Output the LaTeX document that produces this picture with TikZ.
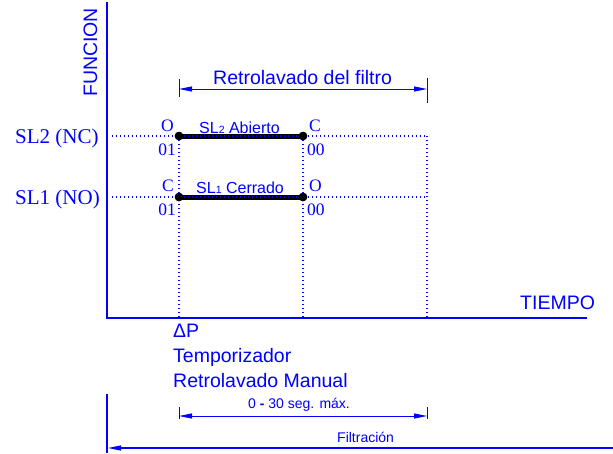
\documentclass[tikz,border=0pt]{standalone}
\usepackage{fontspec}
\setmainfont{Liberation Sans}
\newfontfamily\serifft{Liberation Serif}
\usetikzlibrary{arrows.meta}
\definecolor{dblue}{RGB}{0,0,255}
\begin{document}
\begin{tikzpicture}[x=1pt,y=-1pt,
  axis/.style={draw=dblue,line width=1.3pt},
  dim/.style={draw=dblue,line width=0.9pt},
  tipA/.style={{Triangle[length=13pt,width=5pt]}-{Triangle[length=13pt,width=5pt]}},
  tipL/.style={{Triangle[length=13pt,width=5pt]}-},
  gridl/.style={draw=dblue,line width=1.1pt,dash pattern=on 1.1pt off 2.9pt},
  statel/.style={draw=black,line width=5pt},
  dotn/.style={circle,fill=black,inner sep=0pt,minimum size=8.5pt},
  lbl/.style={text=dblue,inner sep=0pt},
  big/.style={lbl,font=\fontsize{19.5}{24}\selectfont},
  mid/.style={lbl,font=\fontsize{16}{18}\selectfont},
  small/.style={lbl,font=\fontsize{14}{16}\selectfont},
  serifbig/.style={lbl,font=\serifft\fontsize{21}{24}\selectfont},
  serifsm/.style={lbl,font=\serifft\fontsize{17.5}{20}\selectfont},
]
\useasboundingbox (0,0) rectangle (613,453);

% axes
\coordinate (ytop) at (107,2);
\coordinate (origin) at (107,318);
\coordinate (xend) at (587,318);
\draw[axis] (ytop) -- (origin) -- (xend);

\node[big,rotate=90,anchor=base west] (funcion) at (97,97) {FUNCION};
\node[big,anchor=base west] (tiempo) at (520,309) {TIEMPO};

% row labels
\node[serifbig,anchor=base west] (sl2) at (15,143) {SL2 (NC)};
\node[serifbig,anchor=base west] (sl1) at (15,204) {SL1 (NO)};

% grid coordinates
\coordinate (h2s) at (112,136);
\coordinate (h1s) at (112,197);
\coordinate (r2) at (427,136);
\coordinate (r1) at (427,197);
\coordinate (ax1) at (179,318);
\coordinate (ax2) at (303,318);
\coordinate (ax3) at (427,318);

% dots
\node[dotn] (a2) at (179,136) {};
\node[dotn] (b2) at (303,136) {};
\node[dotn] (a1) at (179,197) {};
\node[dotn] (b1) at (303,197) {};

% thick state lines
\draw[statel] (a2.center) -- (b2.center);
\draw[statel] (a1.center) -- (b1.center);

% dotted grid
\draw[gridl] (h2s) -- (r2);
\draw[gridl] (h1s) -- (r1);
\draw[gridl] (a2.center) -- (ax1);
\draw[gridl] (b2.center) -- (ax2);
\draw[gridl] (r2) -- (ax3);

% redraw dots on top
\node[dotn] at (a2) {};
\node[dotn] at (b2) {};
\node[dotn] at (a1) {};
\node[dotn] at (b1) {};

% state labels
\node[serifsm,anchor=base east] (o2) at (174,131) {O};
\node[serifsm,anchor=base east] (z2) at (176,155) {01};
\node[serifsm,anchor=base west] (c2) at (309,131) {C};
\node[serifsm,anchor=base west] (zz2) at (307,155) {00};
\node[serifsm,anchor=base east] (c1) at (174,191) {C};
\node[serifsm,anchor=base east] (z1) at (176,215) {01};
\node[serifsm,anchor=base west] (o1) at (309,191) {O};
\node[serifsm,anchor=base west] (zz1) at (307,215) {00};

\node[mid,anchor=base west] (abierto) at (199,133) {SL{\fontsize{10.5}{12}\selectfont 2} Abierto};
\node[mid,anchor=base west] (cerrado) at (196,193) {SL{\fontsize{10.5}{12}\selectfont 1} Cerrado};

% Retrolavado del filtro dimension
\coordinate (rl) at (179,89);
\coordinate (rr) at (427,89);
\coordinate (rlt) at (179,79);
\coordinate (rlb) at (179,97);
\coordinate (rrt) at (427,78);
\coordinate (rrb) at (427,103);
\draw[dim] (rlt) -- (rlb);
\draw[dim] (rrt) -- (rrb);
\draw[dim,tipA,fill=dblue] (rl) -- (rr);
\node[big,anchor=base west] (retro) at (213,84) {Retrolavado del filtro};

% bottom texts
\node[big,anchor=base west] (dp) at (173,337) {ΔP};
\node[big,anchor=base west] (temp) at (173,362) {Temporizador};
\node[big,anchor=base west] (manual) at (173,387) {Retrolavado Manual};

% 0 - 30 seg dimension
\coordinate (sl) at (179,416);
\coordinate (sr) at (427,416);
\coordinate (slt) at (179,407);
\coordinate (slb) at (179,419);
\coordinate (srt) at (427,407);
\coordinate (srb) at (427,419);
\draw[dim] (slt) -- (slb);
\draw[dim] (srt) -- (srb);
\draw[dim,tipA,fill=dblue] (sl) -- (sr);
\node[small,anchor=base west] (seg) at (248,408) {0 {\bfseries -} 30 seg. máx.};

% Filtracion
\coordinate (ft) at (107,394);
\coordinate (fb) at (107,453);
\draw[axis] (ft) -- (fb);
\coordinate (fl) at (108,448);
\coordinate (fr) at (613,448);
\draw[dim,line width=1.2pt,tipL,fill=dblue] (fl) -- (fr);
\node[small,anchor=base west] (filt) at (337,442) {Filtración};
\end{tikzpicture}
\end{document}
